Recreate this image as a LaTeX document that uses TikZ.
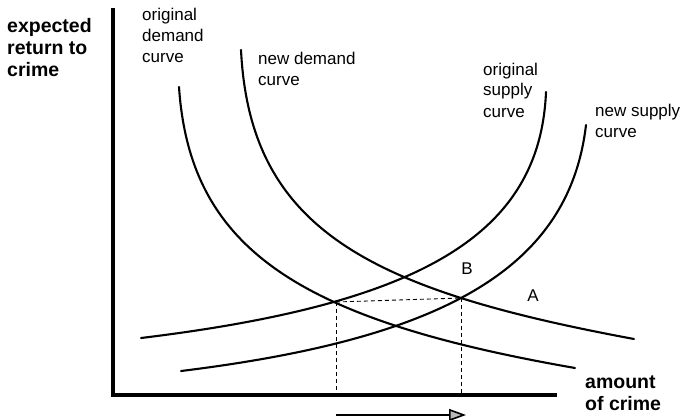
\documentclass[tikz,border=0pt]{standalone}
\usepackage{fontspec}
\setmainfont{Liberation Sans}
\usetikzlibrary{arrows.meta}
\begin{document}
\begin{tikzpicture}[x=1pt,y=-1pt,
  curveline/.style={line width=2.1pt, line join=round, line cap=round},
  axisline/.style={line width=3.2pt},
  guide/.style={line width=0.9pt, dash pattern=on 4pt off 3pt},
  lbl/.style={font=\fontsize{17}{21}\selectfont, align=left, anchor=base west, inner sep=0pt},
  blbl/.style={font=\bfseries\fontsize{19.5}{22}\selectfont, align=left, anchor=base west, inner sep=0pt},
  ptlbl/.style={font=\fontsize{17}{21}\selectfont, anchor=base, inner sep=0pt}]
\useasboundingbox (0,0) rectangle (685,420);

% axes
\coordinate (top) at (113,8);
\coordinate (origin) at (113,395);
\coordinate (right) at (557,395);
\draw[axisline] (top) -- (origin) -- (right);

% original demand curve
\draw[curveline] (179,87) .. controls (190,250) and (300,320) .. (575,368);
% new demand curve
\draw[curveline] (241,50) .. controls (250,230) and (370,290) .. (634,339);
% original supply curve
\draw[curveline] (141,338) .. controls (421,304) and (540,235) .. (546,92);
% new supply curve
\draw[curveline] (181,371) .. controls (441,339) and (569,270) .. (586,125);

% equilibrium points and dashed guides
\coordinate (E1) at (336,302);
\coordinate (E2) at (461,298);
\coordinate (F1) at (336,395);
\coordinate (F2) at (461,395);
\draw[guide] (E1) -- (E2);
\draw[guide] (E1) -- (F1);
\draw[guide] (E2) -- (F2);

% shift arrow
\coordinate (arrS) at (336,415);
\coordinate (arrE) at (466,415);
\draw[line width=1.6pt, -{Triangle[length=17pt,width=12pt,fill=gray!55]}] (arrS) -- (arrE);

% labels (anchored at the baseline of the last line)
\node[blbl] (ylab) at (7,77) {expected\\return to\\crime};
\node[blbl] (xlab) at (585,410) {amount\\of crime};
\node[lbl] (odlab) at (142,63) {original\\demand\\curve};
\node[lbl] (ndlab) at (258,85) {new demand\\curve};
\node[lbl] (oslab) at (483,117) {original\\supply\\curve};
\node[lbl] (nslab) at (595,137) {new supply\\curve};
\node[ptlbl] (B) at (467,274) {B};
\node[ptlbl] (A) at (533,301) {A};
\end{tikzpicture}
\end{document}
